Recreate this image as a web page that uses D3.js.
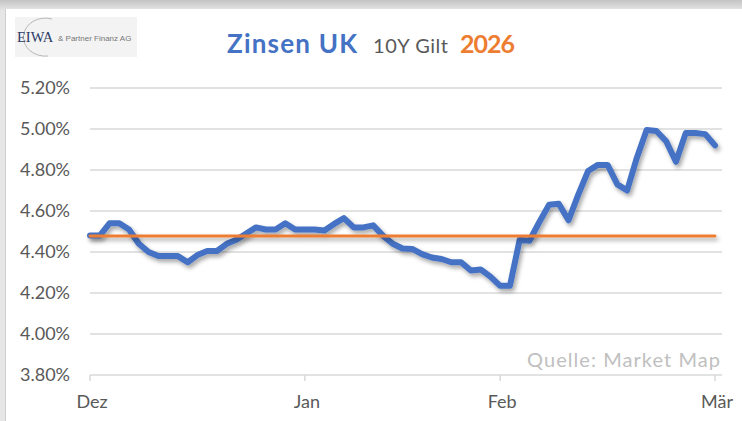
<!DOCTYPE html>
<html><head><meta charset="utf-8">
<script src="https://cdn.jsdelivr.net/npm/d3@7/dist/d3.min.js"></script>
<style>html,body{margin:0;padding:0;background:#fff;}svg{display:block;}</style>
</head><body>
<svg id="c" width="742" height="421"></svg>
<script>
// ---- data ----
const positions = d3.range(65);
const yieldValues = [4.48,4.48,4.54,4.54,4.51,4.44,4.40,4.38,4.38,4.38,
  4.35,4.385,4.405,4.405,4.44,4.46,4.49,4.52,4.51,4.51,
  4.54,4.51,4.51,4.51,4.505,4.537,4.565,4.52,4.52,4.53,
  4.48,4.44,4.417,4.415,4.39,4.373,4.366,4.35,4.35,4.31,
  4.315,4.28,4.235,4.235,4.46,4.455,4.545,4.63,4.635,4.555,
  4.68,4.795,4.825,4.825,4.73,4.70,4.86,4.995,4.99,4.94,
  4.84,4.98,4.98,4.975,4.92];
const referenceLevel = 4.478;
const monthLabels = ["Dez","Jan","Feb","Mär"];
const monthTickPositions = [0,22,42,64];
const yTicks = [3.8,4.0,4.2,4.4,4.6,4.8,5.0,5.2];

const svg = d3.select("#c");
const defs = svg.append("defs");
const g1 = defs.append("linearGradient").attr("id","topg").attr("x1",0).attr("y1",0).attr("x2",0).attr("y2",1);
g1.append("stop").attr("offset","0%").attr("stop-color","#c4c4c4");
g1.append("stop").attr("offset","100%").attr("stop-color","#e4e4e4");
const f = defs.append("filter").attr("id","sh").attr("filterUnits","userSpaceOnUse")
  .attr("x",0).attr("y",0).attr("width",742).attr("height",421);
f.append("feDropShadow").attr("dx",2).attr("dy",3).attr("stdDeviation",2).attr("flood-color","#000").attr("flood-opacity",0.35);

// frame
svg.append("rect").attr("x",0).attr("y",0).attr("width",742).attr("height",10).attr("fill","url(#topg)");
svg.append("rect").attr("x",0).attr("y",10).attr("width",6).attr("height",411).attr("fill","#e6e6e6");
svg.append("rect").attr("x",6).attr("y",9).attr("width",736).attr("height",412).attr("fill","#fff");
svg.append("line").attr("x1",5.5).attr("x2",5.5).attr("y1",9).attr("y2",421).attr("stroke","#cfcfcf").attr("stroke-width",1);

// logo
svg.append("rect").attr("x",15).attr("y",17).attr("width",122).attr("height",40).attr("fill","#f3f3f3");
svg.append("path").attr("d","M 52 19 A 22 19 0 1 0 48 56").attr("fill","none").attr("stroke","#a8a8a8").attr("stroke-width",0.8);
svg.append("text").attr("x",17).attr("y",42).attr("font-family","Liberation Serif, serif").attr("font-size",14.5).attr("fill","#2b3a67").text("EIWA");
svg.append("text").attr("x",58).attr("y",41).attr("font-family","Liberation Sans, Arial, sans-serif").attr("font-size",8).attr("fill","#777").text("& Partner Finanz AG");

// title
svg.append("text").attr("x",227).attr("y",53).attr("font-family","Lato, sans-serif").attr("font-weight","bold").attr("font-size",26)
  .attr("textLength",130).attr("lengthAdjust","spacing").attr("fill","#4472C4").text("Zinsen UK");
svg.append("text").attr("x",373).attr("y",53).attr("font-family","Lato, sans-serif").attr("font-size",20)
  .attr("textLength",75).attr("lengthAdjust","spacing").attr("fill","#595959").text("10Y Gilt");
svg.append("text").attr("x",460).attr("y",53).attr("font-family","Lato, sans-serif").attr("font-weight","bold").attr("font-size",25)
  .attr("textLength",55).attr("lengthAdjust","spacing").attr("fill","#ED7D31").text("2026");

// scales
const x = d3.scaleLinear().domain([0,64]).range([90,715]);
const y = d3.scaleLinear().domain([3.8,5.2]).range([375,88]);

// gridlines
svg.append("g").selectAll("line").data(yTicks).join("line")
  .attr("x1",90).attr("x2",722).attr("y1",d=>y(d)).attr("y2",d=>y(d))
  .attr("stroke","#d9d9d9").attr("stroke-width",1.5);

// y labels
svg.append("g").selectAll("text").data(yTicks).join("text")
  .attr("x",70).attr("y",d=>y(d)).attr("dy","0.36em").attr("text-anchor","end")
  .attr("font-family","Lato, sans-serif").attr("font-size",18).attr("fill","#595959")
  .text(d=>d3.format(".2f")(d)+"%");

// x ticks and labels
svg.append("g").selectAll("line").data(monthTickPositions).join("line")
  .attr("x1",d=>x(d)).attr("x2",d=>x(d)).attr("y1",375).attr("y2",381)
  .attr("stroke","#d9d9d9").attr("stroke-width",1.5);
svg.append("g").selectAll("text").data(monthLabels).join("text")
  .attr("x",(d,i)=>x(monthTickPositions[i])+2).attr("y",408).attr("text-anchor","middle")
  .attr("font-family","Lato, sans-serif").attr("font-size",18).attr("fill","#595959")
  .text(d=>d);

// source
svg.append("text").attr("x",527).attr("y",367)
  .attr("font-family","Lato, sans-serif").attr("font-size",20).attr("textLength",193).attr("lengthAdjust","spacing")
  .attr("fill","#c0c0c0").text("Quelle: Market Map");

// lines
const line = d3.line().x((d,i)=>x(positions[i])).y(d=>y(d));
svg.append("path").datum(yieldValues).attr("d",line).attr("fill","none")
  .attr("stroke","#4472C4").attr("stroke-width",6).attr("stroke-linejoin","round").attr("stroke-linecap","round")
  .attr("filter","url(#sh)");
svg.append("path").datum(positions.map(()=>referenceLevel)).attr("d",line).attr("fill","none")
  .attr("stroke","#ED7D31").attr("stroke-width",3).attr("stroke-linecap","round")
  .attr("filter","url(#sh)");
</script>
</body></html>
